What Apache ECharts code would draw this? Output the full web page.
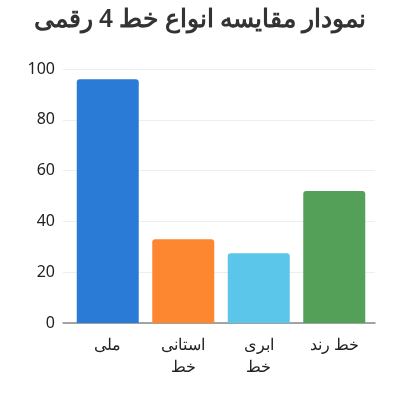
<!DOCTYPE html>
<html><head><meta charset="utf-8">
<script src="https://cdn.jsdelivr.net/npm/echarts@6/dist/echarts.min.js"></script>
<style>html,body{margin:0;padding:0;background:#fff}#c{width:400px;height:400px}</style>
</head><body><div id="c"></div>
<script>
const titleText = 'نمودار مقایسه انواع خط 4 رقمی';
const categories = ['ملی', 'استانی\nخط', 'ابری\nخط', 'خط رند'];
const values = [96, 33, 27.5, 52];
const colors = ['#2a7bd6', '#fd8731', '#5bc5ea', '#55a058'];
const yTicks = [0, 20, 40, 60, 80, 100];

const chart = echarts.init(document.getElementById('c'), null, {renderer: 'canvas'});
chart.setOption({
  backgroundColor: '#fff',
  animation: false,
  title: {
    text: titleText, left: 'center', top: 3,
    textStyle: {fontFamily: 'Noto Sans', fontSize: 24.5, fontWeight: 600, color: '#333'}
  },
  grid: [
    {left: 63, right: 25, top: 69, bottom: 77},
    {left: 70, right: 28, top: 69, bottom: 77}
  ],
  xAxis: [
    {
      gridIndex: 0, type: 'category', data: categories,
      axisTick: {show: false}, axisLabel: {show: false},
      axisLine: {lineStyle: {color: '#888', width: 1.5}}
    },
    {
      gridIndex: 1, type: 'category', data: categories,
      axisTick: {show: false}, axisLine: {show: false},
      axisLabel: {fontFamily: 'Noto Sans', fontSize: 16, color: '#222', lineHeight: 22, margin: 11, interval: 0}
    }
  ],
  yAxis: [
    {
      gridIndex: 0, type: 'value', min: 0, max: yTicks[yTicks.length - 1], interval: 20,
      axisLabel: {fontFamily: 'Noto Sans', fontSize: 16, color: '#222', margin: 8},
      splitLine: {lineStyle: {color: '#eee'}}
    },
    {
      gridIndex: 1, type: 'value', min: 0, max: yTicks[yTicks.length - 1], interval: 20,
      axisLabel: {show: false}, splitLine: {show: false}, axisLine: {show: false}, axisTick: {show: false}
    }
  ],
  series: [{
    type: 'bar', xAxisIndex: 1, yAxisIndex: 1,
    data: values.map((v, i) => ({value: v, itemStyle: {color: colors[i]}})),
    barWidth: 62,
    itemStyle: {borderRadius: [3, 3, 0, 0]}
  }]
});
</script></body></html>
